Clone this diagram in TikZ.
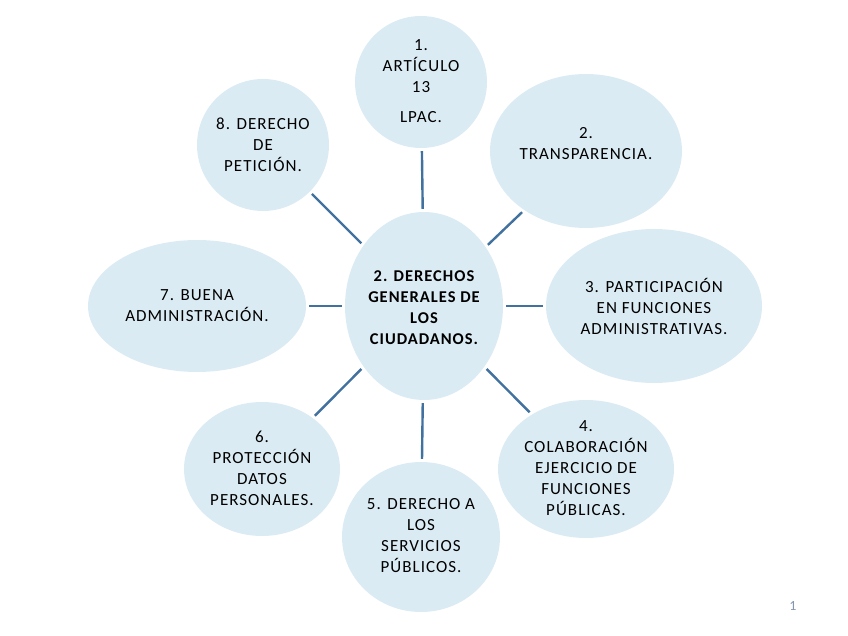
\documentclass[tikz,border=0pt]{standalone}
\usepackage{fontspec}
\setmainfont{Carlito}[LetterSpace=6]
\usetikzlibrary{shapes.geometric}
\definecolor{bubfill}{RGB}{219,235,243}
\definecolor{linkcol}{RGB}{65,113,158}
\definecolor{pagecol}{RGB}{132,150,176}
\begin{document}
\begin{tikzpicture}[x=1pt,y=-1pt,
  bub/.style={ellipse,fill=bubfill,draw=none,inner sep=0pt},
  txt/.style={align=center,font=\fontsize{17}{21}\selectfont,inner sep=0pt},
  link/.style={draw=linkcol,line width=2.4pt,shorten >=3pt,shorten <=3pt}]
\useasboundingbox (0,0) rectangle (848,636);
\node[bub,minimum width=158pt,minimum height=188pt] (c) at (424,306) {};
\node[bub,minimum width=132pt,minimum height=132pt] (n1) at (421,82) {};
\node[bub,minimum width=192pt,minimum height=154pt] (n2) at (586,151) {};
\node[bub,minimum width=216pt,minimum height=154pt] (n3) at (654,306) {};
\node[bub,minimum width=176pt,minimum height=138pt] (n4) at (586,469) {};
\node[bub,minimum width=158pt,minimum height=150pt] (n5) at (421,537) {};
\node[bub,minimum width=156pt,minimum height=134pt] (n6) at (262,469) {};
\node[bub,minimum width=218pt,minimum height=132pt] (n7) at (197,306) {};
\node[bub,minimum width=132pt,minimum height=132pt] (n8) at (263,145) {};
\node[txt,font=\fontsize{16.5}{21}\selectfont\bfseries] (tc) at (424,308) {2. DERECHOS\\GENERALES DE\\LOS\\CIUDADANOS.};
\node[txt] (t1) at (421,81) {1.\\ARTÍCULO\\13\\[9pt]LPAC.};
\node[txt] (t2) at (586,144) {2.\\TRANSPARENCIA.};
\node[txt] (t3) at (654,306) {3. PARTICIPACIÓN\\EN FUNCIONES\\ADMINISTRATIVAS.};
\node[txt] (t4) at (586,468) {4.\\COLABORACIÓN\\EJERCICIO DE\\FUNCIONES\\PÚBLICAS.};
\node[txt] (t5) at (421,536) {5. DERECHO A\\LOS\\SERVICIOS\\PÚBLICOS.};
\node[txt] (t6) at (262,468) {6.\\PROTECCIÓN\\DATOS\\PERSONALES.};
\node[txt] (t7) at (197,306) {7. BUENA\\ADMINISTRACIÓN.};
\node[txt] (t8) at (263,145) {8. DERECHO\\DE\\PETICIÓN.};
\foreach \n in {n1,n2,n3,n4,n5,n6,n7,n8} \draw[link] (c) -- (\n);
\node[font=\fontsize{14}{16}\selectfont,text=pagecol,inner sep=0pt] (pg) at (793,606) {1};
\end{tikzpicture}
\end{document}
